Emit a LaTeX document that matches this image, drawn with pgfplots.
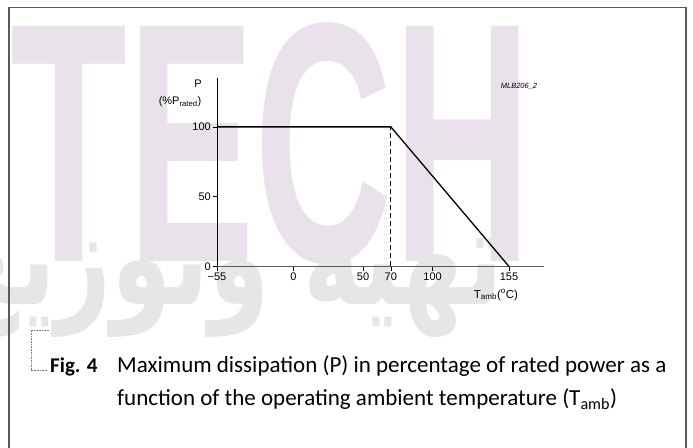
\documentclass[border=0pt]{standalone}
\usepackage{fontspec}
\setmainfont{Liberation Sans}
\newfontfamily\capfont{Carlito}
\newfontfamily\arabicfont[Script=Arabic]{DejaVu Sans}
\TeXXeTstate=1
\usepackage{pgfplots}
\pgfplotsset{compat=1.18}
\definecolor{wmpink}{HTML}{E9E2EB}
\definecolor{wmgray}{HTML}{E6E6E6}
\definecolor{framegray}{HTML}{5A5A5A}
\begin{document}
\begin{tikzpicture}[x=1bp,y=1bp]
\useasboundingbox (0,0) rectangle (693,448);
\begin{scope}
\clip (0,0) rectangle (693,448);
\node[anchor=south west, inner sep=0, text=wmpink, xscale=0.56] at (10,183) {\fontsize{342bp}{342bp}\selectfont\bfseries TECH};
\node[anchor=base east, inner sep=0, text=wmgray, xscale=0.72] at (503,143) {\arabicfont\bfseries\fontsize{135bp}{135bp}\selectfont\beginR تهیه وتوزیع قطعات\endR};
\end{scope}
\draw[framegray, line width=1.5bp] (9,-5) -- (9,440.5) -- (686,440.5) -- (686,-5);
\draw[gray, densely dotted, line width=0.6bp] (49,118) -- (31,118) -- (31,78) -- (48,78);
\begin{axis}[
  at={(217bp,181.5bp)}, anchor=south west, scale only axis,
  width=326.8bp, height=188.5bp,
  xmin=-55, xmax=180, ymin=0, ymax=135,
  axis lines*=left,
  x axis line style={framegray, line width=1bp},
  y axis line style={black, line width=0.9bp},
  xtick={-55,0,50,70,100,155},
  xticklabels={−55,0,50,70,100,155},
  ytick={0,50,100},
  yticklabels={0,50,100},
  tick align=outside, major tick length=4.5bp,
  tick style={black, line width=0.6bp},
  ticklabel style={font=\fontsize{11bp}{12bp}\selectfont},
  xticklabel style={inner sep=2bp},
  yticklabel style={inner sep=1.5bp},
  clip=false,
]
\addplot[black, line width=1.3bp] coordinates {(-55,100) (70,100) (155,0)};
\addplot[black, line width=0.7bp, dash pattern=on 5bp off 3bp] coordinates {(70,0) (70,100)};
\end{axis}
\node[font=\fontsize{11bp}{12bp}\selectfont] at (198,364) {P};
\node[font=\fontsize{11bp}{12bp}\selectfont] at (180,346) {(\%P\textsubscript{rated})};
\node[font=\fontsize{7.5bp}{9bp}\selectfont\itshape] at (519,362) {MLB206\_2};
\node[font=\fontsize{11.5bp}{12bp}\selectfont] at (496,153) {T\textsubscript{amb}(\textsuperscript{o}C)};
\node[anchor=base west, inner sep=0] at (50,75) {\capfont\bfseries\fontsize{21bp}{25bp}\selectfont Fig. 4};
\node[anchor=base west, inner sep=0] at (117,75) {\capfont\fontsize{23bp}{27bp}\selectfont Maximum dissipation (P) in percentage of rated power as a};
\node[anchor=base west, inner sep=0] at (117,42) {\capfont\fontsize{23bp}{27bp}\selectfont function of the operating ambient temperature (T\textsubscript{amb})};
\end{tikzpicture}
\end{document}
